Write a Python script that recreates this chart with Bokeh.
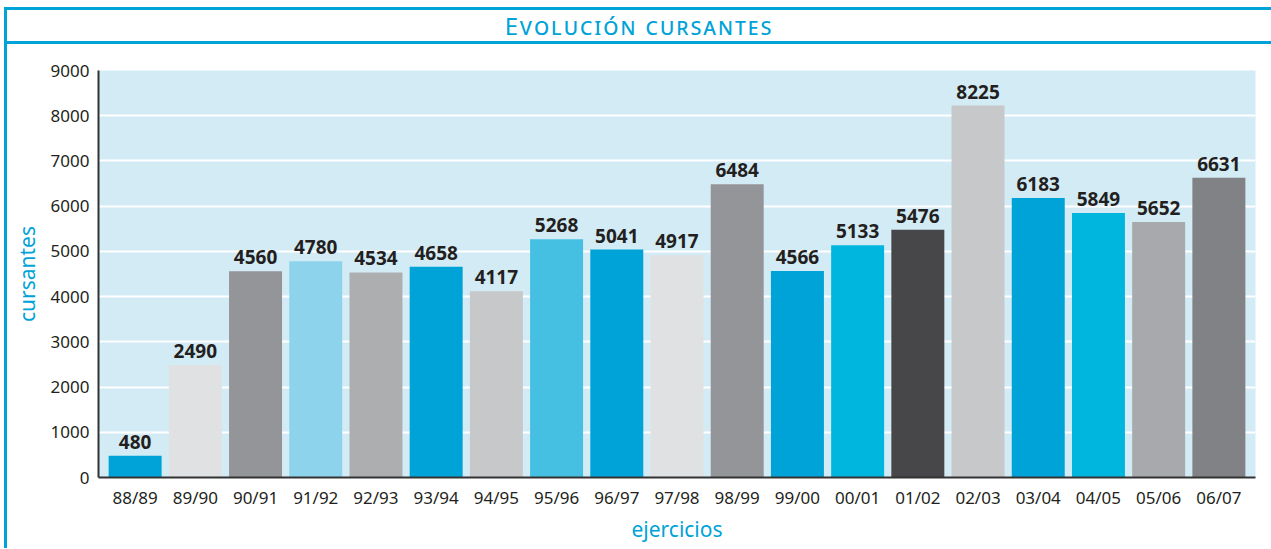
from bokeh.plotting import figure
from bokeh.models import ColumnDataSource, LabelSet, FactorRange, Div, FixedTicker
from bokeh.layouts import column
from bokeh.embed import file_html
from bokeh.resources import INLINE
from bokeh.core.properties import value

categories = ["88/89", "89/90", "90/91", "91/92", "92/93", "93/94", "94/95",
              "95/96", "96/97", "97/98", "98/99", "99/00", "00/01", "01/02",
              "02/03", "03/04", "04/05", "05/06", "06/07"]
cursantes = [480, 2490, 4560, 4780, 4534, 4658, 4117, 5268, 5041, 4917,
             6484, 4566, 5133, 5476, 8225, 6183, 5849, 5652, 6631]
bar_colors = ["#00a3d7", "#e0e1e3", "#949598", "#8dd3eb", "#adaeb0", "#00a3d7",
              "#c7c8ca", "#46c0e2", "#00a3d7", "#e0e1e3", "#949598", "#00a3d7",
              "#00b6df", "#474749", "#c7c8ca", "#00a3d7", "#00b6df", "#a8a9ac",
              "#818285"]
y_ticks = [0, 1000, 2000, 3000, 4000, 5000, 6000, 7000, 8000, 9000]

BLUE = "#00a3d7"
FONT = "Noto Sans"
DARK = "#231f20"

src = ColumnDataSource(dict(cat=categories, val=cursantes, color=bar_colors,
                            label=[str(v) for v in cursantes]))

p = figure(x_range=FactorRange(factors=categories, range_padding=0.0114),
           y_range=(0, 9000), width=1260, height=504,
           output_backend="svg", toolbar_location=None,
           min_border_left=91, min_border_right=12, min_border_top=26,
           min_border_bottom=71, margin=0)

p.vbar(x="cat", top="val", width=0.88, fill_color="color", line_color=None, source=src)

p.add_layout(LabelSet(x="cat", y="val", text="label", source=src,
                      text_align="center", text_baseline="alphabetic", y_offset=7,
                      text_font=value(FONT), text_font_size="19px",
                      text_font_style="bold", text_color=DARK))

p.background_fill_color = "#d3ebf5"
p.border_fill_color = "white"
p.outline_line_color = None
p.xgrid.grid_line_color = None
p.ygrid.grid_line_color = "white"
p.ygrid.grid_line_width = 2
p.yaxis.ticker = FixedTicker(ticks=y_ticks)

for ax in (p.xaxis[0], p.yaxis[0]):
    ax.axis_line_color = "#333333"
    ax.axis_line_width = 2
    ax.major_tick_line_color = None
    ax.minor_tick_line_color = None
    ax.major_tick_in = 0
    ax.major_tick_out = 0
    ax.major_label_text_font = FONT
    ax.major_label_text_font_size = "17px"
    ax.major_label_text_color = DARK
    ax.axis_label_text_font = FONT
    ax.axis_label_text_font_size = "21px"
    ax.axis_label_text_font_style = "normal"
    ax.axis_label_text_color = BLUE

p.xaxis.axis_label = "ejercicios"
p.yaxis.axis_label = "cursantes"
p.xaxis.major_label_standoff = 8
p.xaxis.axis_label_standoff = 3
p.yaxis.major_label_standoff = 9
p.yaxis.axis_label_standoff = 7

title = Div(text="Evolución cursantes", width=1267, height=37, margin=0,
            styles={"color": BLUE, "font-family": FONT, "font-size": "24px",
                    "font-variant": "small-caps", "letter-spacing": "2px",
                    "text-align": "center", "line-height": "31px",
                    "border-top": "3px solid " + BLUE,
                    "border-bottom": "3px solid " + BLUE,
                    "border-left": "3px solid " + BLUE})

p.styles = {"border-left": "3px solid " + BLUE}

layout = column(title, p, spacing=0, margin=(7, 0, 0, 4))

open("out.html", "w").write(file_html(layout, INLINE))
